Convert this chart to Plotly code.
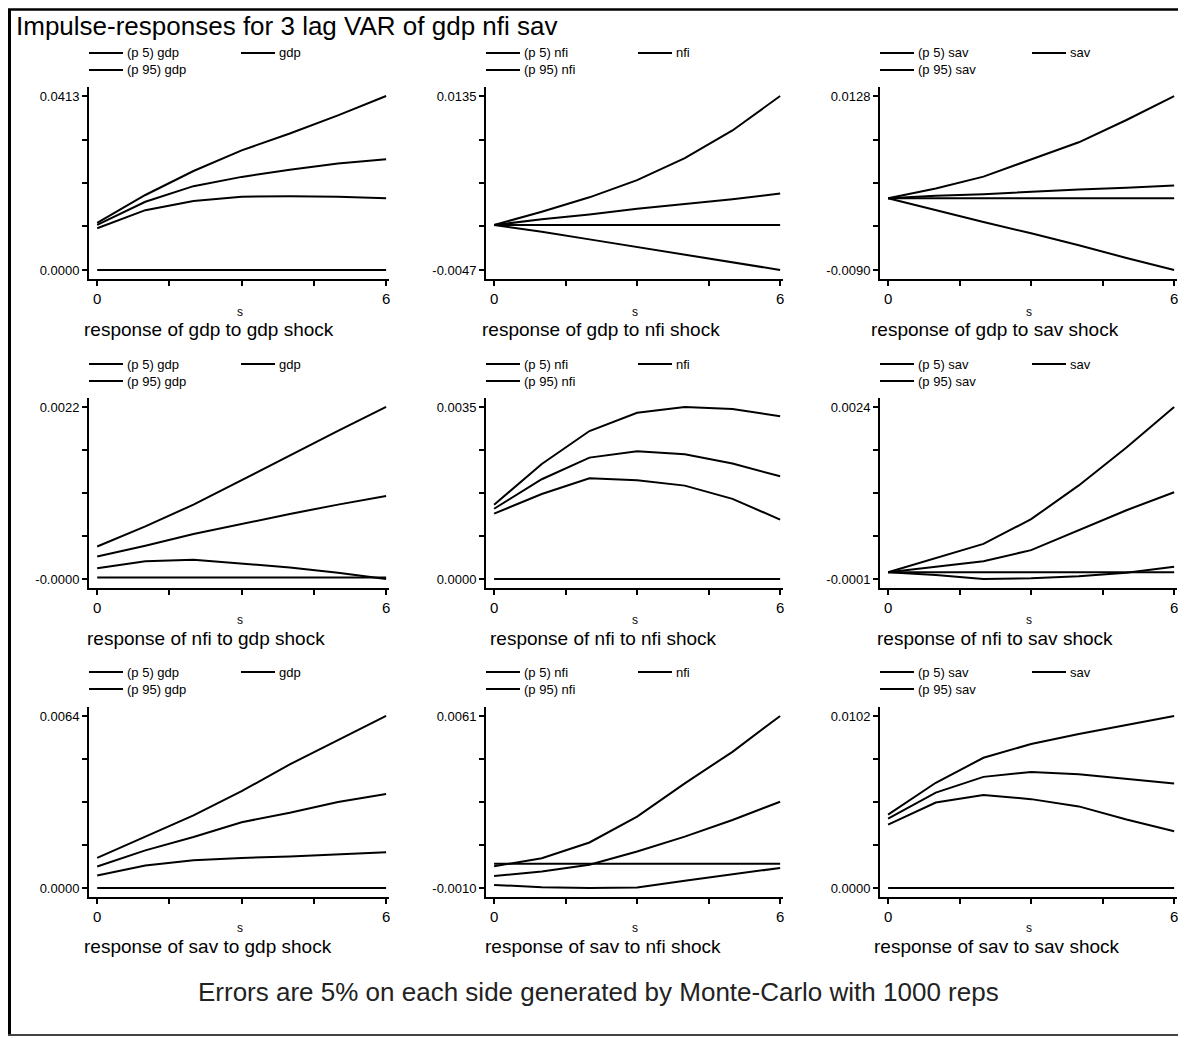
import plotly.graph_objects as go
import numpy as np

# page body has an 8px margin; the figure is sized to fill the rest of the window
OFF = 8
W, H = 1186 - OFF, 1038 - OFF

steps = [0, 1, 2, 3, 4, 5, 6]
variables = ["gdp", "nfi", "sav"]

# ---- data: response of <row var> to <col var> shock ----
gdp_gdp_p5 = [0.0099, 0.0142, 0.0164, 0.0174, 0.0175, 0.0174, 0.0170]
gdp_gdp_irf = [0.0107, 0.0162, 0.0199, 0.0221, 0.0238, 0.0253, 0.0263]
gdp_gdp_p95 = [0.0112, 0.0178, 0.0235, 0.0284, 0.0324, 0.0367, 0.0413]

gdp_nfi_p5 = [0.0, -0.0007, -0.0015, -0.0023, -0.0031, -0.0039, -0.0047]
gdp_nfi_irf = [0.0, 0.0006, 0.0011, 0.0017, 0.0022, 0.0027, 0.0033]
gdp_nfi_p95 = [0.0, 0.0014, 0.0029, 0.0047, 0.0070, 0.0099, 0.0135]

gdp_sav_p5 = [0.0, -0.0015, -0.0030, -0.0044, -0.0059, -0.0075, -0.0090]
gdp_sav_irf = [0.0, 0.0003, 0.0005, 0.0008, 0.0011, 0.0013, 0.0016]
gdp_sav_p95 = [0.0, 0.0012, 0.0027, 0.0048, 0.0070, 0.0098, 0.0128]

nfi_gdp_p5 = [0.00012, 0.00021, 0.00023, 0.00018, 0.00013, 0.00006, -0.00002]
nfi_gdp_irf = [0.00027, 0.00041, 0.00056, 0.00069, 0.00082, 0.00094, 0.00105]
nfi_gdp_p95 = [0.00040, 0.00066, 0.00094, 0.00126, 0.00158, 0.00189, 0.00220]

nfi_nfi_p5 = [0.00133, 0.00173, 0.00205, 0.00201, 0.00190, 0.00163, 0.00121]
nfi_nfi_irf = [0.00143, 0.00203, 0.00247, 0.00260, 0.00254, 0.00235, 0.00209]
nfi_nfi_p95 = [0.00151, 0.00234, 0.00301, 0.00338, 0.00350, 0.00346, 0.00331]

nfi_sav_p5 = [0.0, -0.00004, -0.00010, -0.00009, -0.00006, -0.00001, 0.00008]
nfi_sav_irf = [0.0, 0.00008, 0.00016, 0.00032, 0.00061, 0.00090, 0.00116]
nfi_sav_p95 = [0.0, 0.00020, 0.00041, 0.00077, 0.00126, 0.00181, 0.00240]

sav_gdp_p5 = [0.00047, 0.00084, 0.00103, 0.00112, 0.00117, 0.00125, 0.00133]
sav_gdp_irf = [0.00080, 0.00140, 0.00190, 0.00245, 0.00280, 0.00320, 0.00350]
sav_gdp_p95 = [0.00112, 0.00190, 0.00270, 0.00360, 0.00460, 0.00550, 0.00640]

sav_nfi_p5 = [-0.00087, -0.00097, -0.00100, -0.00098, -0.00070, -0.00042, -0.00017]
sav_nfi_irf = [-0.00050, -0.00032, -0.00004, 0.00051, 0.00112, 0.00181, 0.00256]
sav_nfi_p95 = [-0.00010, 0.00023, 0.00088, 0.00195, 0.00332, 0.00462, 0.00610]

sav_sav_p5 = [0.00376, 0.00507, 0.00552, 0.00527, 0.00484, 0.00406, 0.00337]
sav_sav_irf = [0.00412, 0.00566, 0.00659, 0.00688, 0.00675, 0.00649, 0.00620]
sav_sav_p95 = [0.00435, 0.00624, 0.00772, 0.00854, 0.00913, 0.00967, 0.01020]

zero_line = [0.0, 0.0, 0.0, 0.0, 0.0, 0.0, 0.0]

# y-axis extremes and their labels (row-major)
y_min_vals = [0.0, -0.0047, -0.0090, -0.00002, 0.0, -0.0001, 0.0, -0.0010, 0.0]
y_max_vals = [0.0413, 0.0135, 0.0128, 0.0022, 0.0035, 0.0024, 0.0064, 0.0061, 0.0102]
y_min_labels = ["0.0000", "-0.0047", "-0.0090", "-0.0000", "0.0000", "-0.0001", "0.0000", "-0.0010", "0.0000"]
y_max_labels = ["0.0413", "0.0135", "0.0128", "0.0022", "0.0035", "0.0024", "0.0064", "0.0061", "0.0102"]
x_tick_labels = ["0", "", "", "", "6"]

title_text = "Impulse-responses for 3 lag VAR of gdp nfi sav"
note_text = "Errors are 5% on each side generated by Monte-Carlo with 1000 reps"

panels = [
    [(gdp_gdp_p5, gdp_gdp_irf, gdp_gdp_p95), (gdp_nfi_p5, gdp_nfi_irf, gdp_nfi_p95), (gdp_sav_p5, gdp_sav_irf, gdp_sav_p95)],
    [(nfi_gdp_p5, nfi_gdp_irf, nfi_gdp_p95), (nfi_nfi_p5, nfi_nfi_irf, nfi_nfi_p95), (nfi_sav_p5, nfi_sav_irf, nfi_sav_p95)],
    [(sav_gdp_p5, sav_gdp_irf, sav_gdp_p95), (sav_nfi_p5, sav_nfi_irf, sav_nfi_p95), (sav_sav_p5, sav_sav_irf, sav_sav_p95)],
]

# ---- layout geometry (window pixels) ----
col_px = [(89, 389), (486, 783), (880, 1177)]
row_px = [(87, 279), (398, 588), (707, 897)]
legend_row_y = [(53, 70), (364, 381), (672, 689)]
sub_x = [[209, 601, 995], [206, 603, 995], [208, 603, 997]]
s_x = [240, 635, 1029]
s_y = [312, 620, 928]
sub_y = [330, 638, 946]

FONT = "Liberation Sans, Arial, sans-serif"


def px(x):
    return (x - OFF) / W


def py(y):
    return 1 - (y - OFF) / H


fig = go.Figure()
annotations = []
shapes = []
LW = 2

for r in range(3):
    for c in range(3):
        k = r * 3 + c + 1
        xa = "x" if k == 1 else f"x{k}"
        ya = "y" if k == 1 else f"y{k}"
        p5, irf, p95 = panels[r][c]
        for series in (zero_line, p5, irf, p95):
            fig.add_trace(go.Scatter(x=steps, y=series, mode="lines",
                                     line=dict(color="black", width=LW),
                                     xaxis=xa, yaxis=ya, showlegend=False,
                                     hoverinfo="skip"))
        ymin, ymax = y_min_vals[k - 1], y_max_vals[k - 1]
        span = ymax - ymin
        pad = 0.052 * span
        x0p, x1p = col_px[c]
        y0p, y1p = row_px[r]
        xkey = "xaxis" if k == 1 else f"xaxis{k}"
        ykey = "yaxis" if k == 1 else f"yaxis{k}"
        fig.layout[xkey] = dict(
            domain=[px(x0p), px(x1p)], anchor=ya, range=[-0.17, 6.06],
            showgrid=False, zeroline=False, showline=True, linecolor="black",
            linewidth=2, ticks="outside", ticklen=5, tickwidth=2, tickcolor="black",
            tickvals=[0, 1.5, 3, 4.5, 6], ticktext=x_tick_labels,
            tickfont=dict(family=FONT, size=15, color="black"), fixedrange=True)
        fig.layout[ykey] = dict(
            domain=[py(y1p), py(y0p)], anchor=xa, range=[ymin - pad, ymax + pad],
            showgrid=False, zeroline=False, showline=True, linecolor="black",
            linewidth=2, ticks="outside", ticklen=5, tickwidth=2, tickcolor="black",
            tickvals=list(np.linspace(ymin, ymax, 5)),
            ticktext=[y_min_labels[k - 1], "", "", "", y_max_labels[k - 1]],
            tickfont=dict(family=FONT, size=13, color="black"), fixedrange=True)

        # legend (manual, 2 columns)
        v = variables[c]
        ly1, ly2 = legend_row_y[r]
        entries = [(x0p, ly1, f"(p 5) {v}"), (x0p + 152, ly1, v), (x0p, ly2, f"(p 95) {v}")]
        for lx, ly, txt in entries:
            shapes.append(dict(type="line", xref="paper", yref="paper",
                               x0=px(lx), x1=px(lx + 34), y0=py(ly), y1=py(ly),
                               line=dict(color="black", width=2)))
            annotations.append(dict(text=txt, x=px(lx + 36), y=py(ly), xref="paper", yref="paper",
                                    xanchor="left", yanchor="middle", showarrow=False,
                                    font=dict(family=FONT, size=13, color="black")))
        # subtitle
        annotations.append(dict(text=f"response of {variables[r]} to {variables[c]} shock",
                                x=px(sub_x[r][c]), y=py(sub_y[r]), xref="paper", yref="paper",
                                xanchor="center", yanchor="middle", showarrow=False,
                                font=dict(family=FONT, size=19, color="black")))
        # x-axis title "s"
        annotations.append(dict(text="s", x=px(s_x[c]), y=py(s_y[r]), xref="paper", yref="paper",
                                xanchor="center", yanchor="middle", showarrow=False,
                                font=dict(family=FONT, size=12, color="black")))

annotations.append(dict(text=title_text, x=px(14), y=py(26), xref="paper", yref="paper",
                        xanchor="left", yanchor="middle", showarrow=False,
                        font=dict(family=FONT, size=26, color="black")))
annotations.append(dict(text=note_text, x=px(598), y=py(992), xref="paper", yref="paper",
                        xanchor="center", yanchor="middle", showarrow=False,
                        font=dict(family=FONT, size=26, color="#222222")))

# frame
shapes.append(dict(type="line", xref="paper", yref="paper", x0=px(9.5), x1=px(9.5), y0=py(10), y1=py(1034),
                   line=dict(color="black", width=3)))
shapes.append(dict(type="line", xref="paper", yref="paper", x0=px(8), x1=px(1186), y0=py(9.5), y1=py(9.5),
                   line=dict(color="black", width=2.5)))
shapes.append(dict(type="line", xref="paper", yref="paper", x0=px(8), x1=px(1186), y0=py(1035), y1=py(1035),
                   line=dict(color="#444444", width=2)))

fig.update_layout(width=W, height=H, margin=dict(l=0, r=0, t=0, b=0),
                  paper_bgcolor="white", plot_bgcolor="white",
                  annotations=annotations, shapes=shapes, showlegend=False)

fig.write_html("out.html")
